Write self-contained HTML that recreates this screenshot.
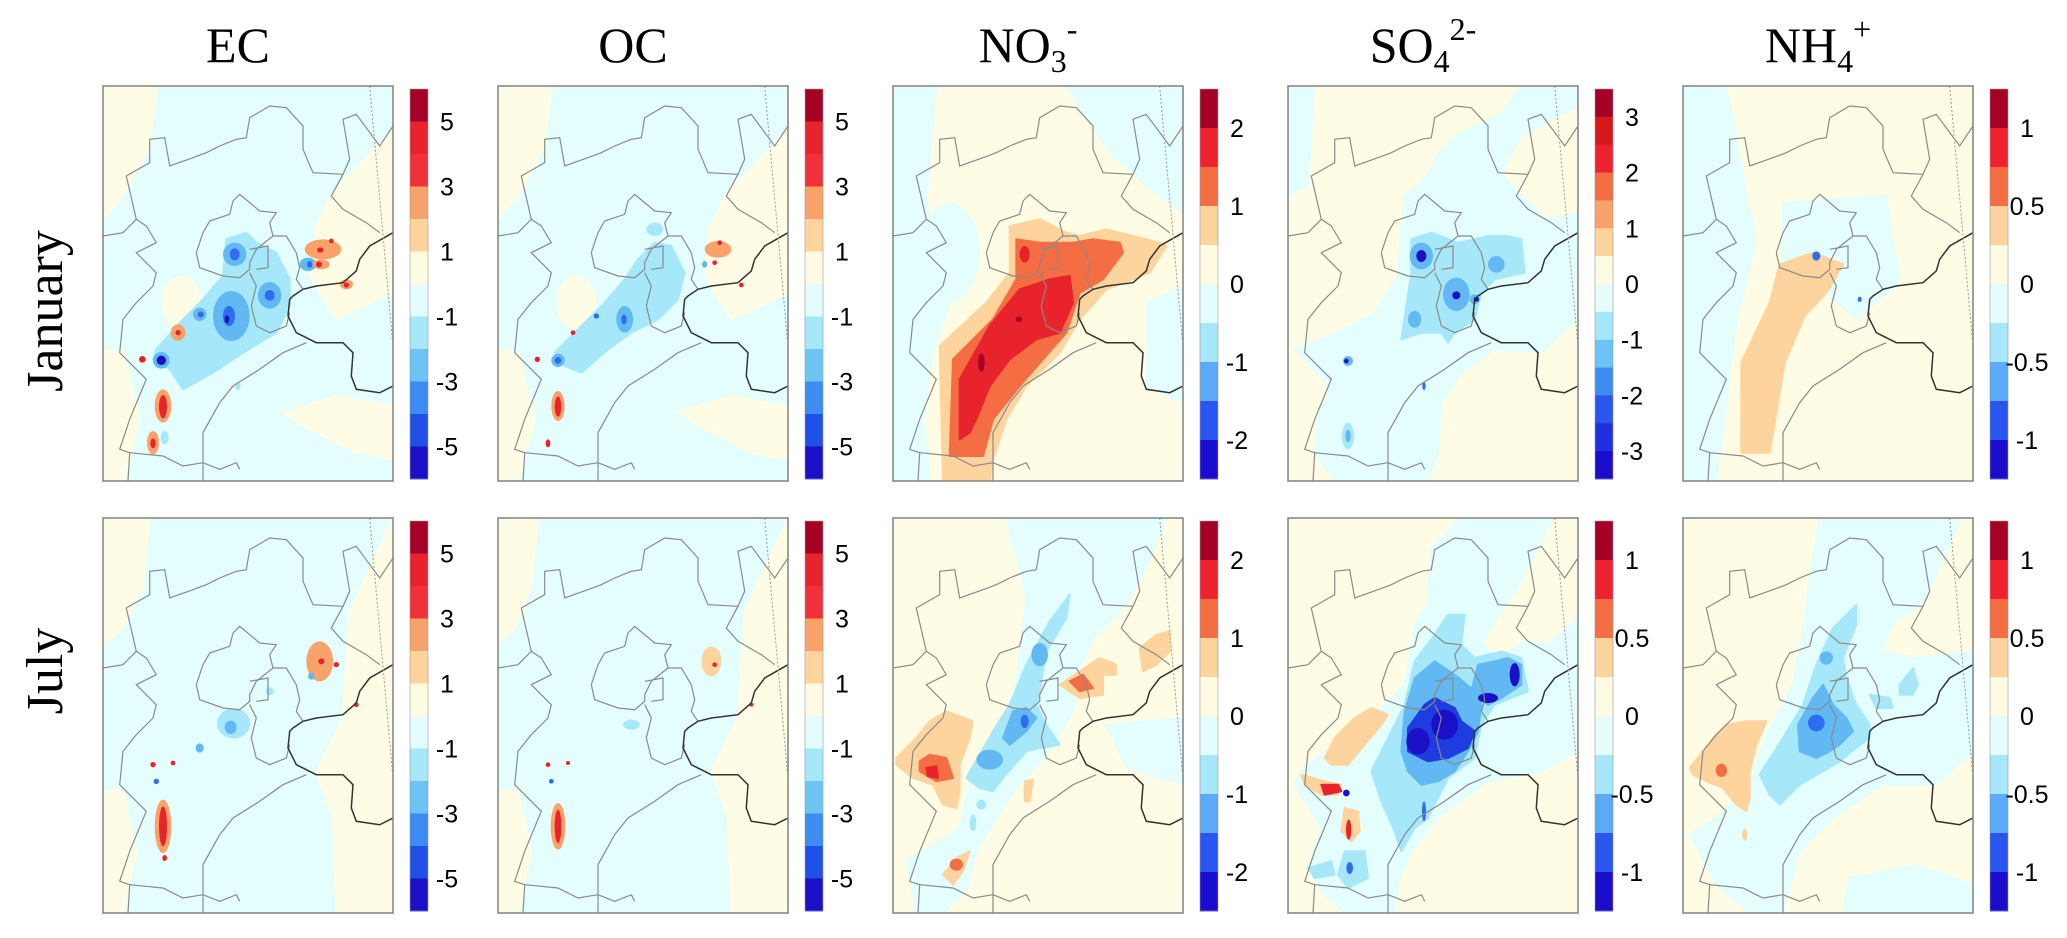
<!DOCTYPE html>
<html><head><meta charset="utf-8"><style>
html,body{margin:0;padding:0;background:#fff}
svg{display:block}
</style></head><body>
<svg id="fig" width="2067" height="938" xmlns="http://www.w3.org/2000/svg" font-family="Liberation Sans, sans-serif">
<rect width="2067" height="938" fill="#fff"/>
</svg>
<script>
// ---- data ----
const species = ["EC","OC","NO3","SO4","NH4"];
const months = ["January","July"];
const cbLabelsEC = ["5","3","1","-1","-3","-5"];
const cbLabelsNO3 = ["2","1","0","-1","-2"];
const cbLabelsSO4jan = ["3","2","1","0","-1","-2","-3"];
const cbLabelsHalf = ["1","0.5","0","-0.5","-1"];
const pal12 = ["#a50026","#e8232b","#f0303a","#f9a36b","#fdd49e","#fffbe3","#e5fcfc","#a6e8fa","#6cc4f4","#3c8cf2","#2050e8","#1a10c8"];
const pal10 = ["#a50026","#ef2330","#f46d43","#fdd49e","#fffbe3","#e5fcfc","#a6e8fa","#5aaaf5","#2a55ee","#1a0ccc"];
const pal14 = ["#a50026","#d7191c","#ef2330","#f46d43","#f9a36b","#fdd49e","#fffbe3","#e5fcfc","#a6e8fa","#6cc4f4","#3c8cf2","#2a55ee","#2030e0","#1a0ccc"];
const C = {dr:"#a50026",r:"#e8232b",co:"#f46d43",sa:"#f9a36b",lo:"#fdd49e",cr:"#fffce5",lc:"#e4fdfd",lb:"#a6e8fa",mb:"#62b8f2",b:"#2e6cf0",db:"#1f3ce0",nv:"#1a10c8"};

// map fields in map units (870 x 1185 per panel)
const CR_EC = [
 ["p","cr",[0,0,160,0,140,180,60,330,0,400]],
 ["p","cr",[680,330,870,130,870,620,700,700,650,620,620,560,640,420]],
 ["p","cr",[540,980,700,930,870,960,870,1120,760,1100,600,1020]],
 ["p","cr",[0,790,60,800,110,1000,60,1185,0,1185]],
 ["e","cr",[235,650,60,80]]];
const fields = {
 EC_0:{base:"lc",s:CR_EC.concat([
  ["p","lb",[160,790,240,700,300,640,360,570,370,460,430,440,460,470,520,500,560,580,560,660,520,740,420,800,330,860,240,910,200,850,150,820]],
  ["e","mb",[385,690,55,75]],["e","mb",[395,505,35,35]],["e","mb",[500,628,35,40]],["e","mb",[175,823,25,25]],["e","mb",[290,685,20,20]],["e","mb",[615,535,25,20]],
  ["e","b",[395,505,15,18]],["e","b",[500,628,15,16]],["e","b",[378,690,18,30]],["e","b",[293,685,9,9]],["e","b",[620,535,8,10]],
  ["e","nv",[175,823,14,14]],["e","nv",[372,700,7,12]],
  ["e","sa",[225,740,22,25]],["e","sa",[180,960,25,50]],["e","sa",[150,1070,18,35]],["e","sa",[660,490,55,30]],["e","sa",[655,535,25,15]],["e","sa",[730,595,20,15]],
  ["e","r",[225,740,8,8]],["e","r",[118,820,10,10]],["e","r",[180,962,12,35]],["e","r",[150,1072,8,15]],["e","r",[652,492,10,8]],["e","r",[685,465,7,7]],["e","r",[648,535,9,9]],["e","r",[730,597,8,8]],
  ["e","lb",[185,1055,12,20]],["e","lb",[405,900,8,12]]])},
 OC_0:{base:"lc",s:CR_EC.concat([
  ["p","lb",[170,800,250,720,320,650,380,580,420,520,470,470,520,480,560,560,540,640,480,700,400,740,330,790,250,860,200,840]],
  ["e","lb",[470,430,25,20]],["e","mb",[380,700,25,40]],["e","mb",[180,823,20,20]],
  ["e","b",[180,823,10,10]],["e","b",[378,700,8,15]],["e","b",[295,690,8,8]],
  ["e","sa",[180,960,20,45]],["e","r",[180,962,10,30]],["e","r",[150,1072,7,12]],["e","r",[118,820,8,8]],["e","r",[225,740,7,7]],
  ["e","sa",[660,490,40,25]],["e","r",[665,470,7,7]],["e","r",[650,530,7,7]],["e","r",[730,597,7,7]],["e","mb",[620,535,8,10]]])},
 NO3_0:{base:"cr",s:[
  ["p","lc",[0,0,130,0,100,350,170,650,120,800,90,1000,110,1185,0,1185]],
  ["e","lc",[170,500,90,150]],["p","lc",[520,0,870,0,870,380,760,300,650,200]],["p","lc",[760,650,870,600,870,950,760,900]],
  ["p","lo",[150,1185,140,780,280,650,350,560,350,420,440,400,520,440,560,450,640,430,720,450,800,470,820,480,770,560,640,610,560,700,500,800,400,900,340,1000,300,1120,290,1185]],
  ["p","co",[170,1110,180,820,300,700,370,580,370,460,440,470,540,470,600,460,680,470,690,500,630,580,560,620,520,740,450,820,380,900,300,1000,270,1110]],
  ["p","r",[200,1060,200,880,290,720,380,610,470,580,530,570,540,650,500,740,430,760,350,820,290,900,250,1000,230,1040]],
  ["e","r",[395,505,15,25]],["e","dr",[378,700,10,8]],["e","dr",[265,830,10,28]]]},
 SO4_0:{base:"cr",s:[
  ["p","lc",[20,790,150,740,260,680,330,570,340,420,350,330,420,270,450,200,500,150,560,120,640,80,700,0,870,0,870,60,700,150,640,260,700,330,780,400,870,380,870,700,760,800,620,790,520,860,460,950,450,1100,420,1185,140,1185,80,1100,90,1000,120,900,60,830]],
  ["p","lc",[0,0,80,0,60,300,0,330]],
  ["p","lb",[340,760,370,560,370,460,430,440,510,470,560,460,600,450,660,450,700,460,710,560,620,580,580,620,560,700,500,740,480,770,460,740,400,740]],
  ["e","mb",[400,510,35,40]],["e","mb",[505,625,40,50]],["e","mb",[625,535,25,25]],["e","mb",[380,700,20,25]],["e","mb",[560,640,15,15]],["e","mb",[180,825,15,15]],["e","lb",[180,1050,18,40]],["e","mb",[180,1050,8,18]],
  ["e","nv",[400,510,15,18]],["e","nv",[505,628,12,12]],["e","nv",[565,640,8,7]],["e","nv",[175,825,7,7]],["e","b",[408,900,5,12]]]},
 NH4_0:{base:"cr",s:[
  ["p","lc",[0,0,130,0,220,470,160,710,100,1185,0,1185]],
  ["p","lc",[300,350,610,330,650,590,520,700,430,620,300,530]],
  ["p","lo",[175,1100,175,830,260,650,290,535,390,500,480,535,435,615,365,690,305,830,260,1100]],
  ["e","b",[400,510,12,14]],["e","b",[530,640,6,8]]]},
 EC_1:{base:"lc",s:[
  ["p","cr",[0,0,140,0,120,200,60,330,0,380]],
  ["p","cr",[740,280,870,0,870,1185,700,1185,690,900,640,760,720,600]],
  ["p","cr",[0,820,60,820,100,1000,60,1185,0,1185]],
  ["e","lb",[392,616,50,45]],["e","mb",[383,628,18,20]],["e","lb",[500,520,12,12]],["e","mb",[290,690,12,14]],
  ["e","sa",[650,430,40,60]],["e","r",[655,430,9,9]],["e","r",[700,440,8,8]],["e","mb",[625,475,10,10]],["e","r",[760,560,7,7]],
  ["e","sa",[180,925,25,80]],["e","r",[180,925,12,60]],["e","r",[150,740,8,8]],["e","r",[210,735,7,7]],["e","b",[160,790,8,8]],["e","r",[185,1020,7,9]]]},
 OC_1:{base:"lc",s:[
  ["p","cr",[0,0,120,0,100,200,50,330,0,380]],
  ["p","cr",[740,280,870,0,870,1185,700,1185,690,900,640,760,720,600]],
  ["p","cr",[0,820,60,820,100,1000,60,1185,0,1185]],
  ["e","lb",[400,620,25,15]],
  ["e","lo",[640,430,30,45]],["e","r",[650,440,7,7]],["e","r",[760,560,6,6]],
  ["e","sa",[180,925,22,70]],["e","r",[180,925,10,50]],["e","r",[150,740,7,7]],["e","r",[210,735,6,6]],["e","b",[160,790,7,7]]]},
 NO3_1:{base:"cr",s:[
  ["p","lc",[340,0,820,0,760,150,700,260,600,360,560,450,540,580,470,700,380,800,310,900,250,1000,220,1120,150,1185,70,1185,40,1030,200,930,230,800,330,650,360,560,380,400,400,240]],
  ["p","lc",[640,620,870,600,870,800,700,750]],
  ["p","lb",[220,780,300,640,350,560,400,440,470,310,530,230,520,300,460,400,440,520,430,560,460,620,500,680,440,690,400,700,330,780,300,820,260,810]],
  ["e","lb",[240,915,10,25]],["e","lb",[265,860,15,15]],
  ["p","mb",[330,660,360,580,400,570,430,600,400,640,350,680]],["e","mb",[290,725,40,30]],["e","mb",[440,410,25,35]],["e","b",[395,610,12,20]],
  ["p","lo",[10,720,70,660,110,610,160,580,240,610,230,660,200,740,200,820,190,870,150,860,120,800,60,780,10,740]],
  ["p","co",[80,730,110,710,160,720,180,780,130,790,80,760]],["p","r",[100,750,130,745,135,780,105,775]],
  ["p","lo",[500,500,560,460,620,420,670,440,670,470,630,470,630,530,560,540]],["p","co",[530,490,570,470,600,510,560,520]],
  ["p","lo",[740,390,790,350,830,340,830,400,790,440,750,460]],
  ["p","lo",[150,1070,190,1020,230,1000,210,1060,180,1100]],["e","co",[190,1040,20,18]],
  ["p","lo",[395,790,420,785,410,850,395,850]]]},
 SO4_1:{base:"cr",s:[
  ["p","lc",[430,90,520,0,840,0,780,200,700,300,690,360,780,380,870,300,870,700,760,760,600,790,450,900,370,1000,330,1100,320,1185,170,1185,100,1120,60,1050,100,930,20,800,40,760,110,700,230,620,350,500,380,320,420,250]],
  ["p","cr",[800,0,870,0,870,250,760,330,620,420,590,370,700,200]],
  ["p","lb",[250,760,300,660,350,560,380,430,440,350,480,290,530,290,520,380,560,420,640,400,700,420,720,520,620,560,580,620,560,720,480,780,420,900,380,930,340,1000,320,940,280,850]],
  ["p","mb",[340,700,350,580,380,480,440,430,500,470,560,520,580,560,570,640,540,700,500,760,450,790,400,800,360,760]],
  ["p","mb",[550,520,570,440,620,430,660,420,700,440,700,500,640,540,600,560]],
  ["p","db",[360,700,360,630,410,560,440,540,500,570,520,610,560,640,540,690,480,720,420,730]],
  ["e","nv",[390,670,35,40]],["e","nv",[470,620,40,45]],["e","nv",[600,540,30,15]],["e","nv",[680,470,15,35]],["e","nv",[185,1050,10,18]],["e","b",[408,880,6,30]],
  ["p","lo",[110,720,140,660,200,600,250,570,300,590,280,620,230,680,180,740,130,740]],
  ["p","lo",[40,770,110,790,160,800,150,830,100,830,50,800]],["p","r",[100,800,150,800,160,820,110,830]],
  ["p","lo",[170,870,210,880,215,940,190,970,160,940]],["e","r",[182,935,8,30]],["e","nv",[175,825,10,10]],
  ["p","lb",[170,1000,230,1000,240,1080,180,1110,150,1070]],["p","lb",[60,1050,130,1030,140,1070,80,1080]],["e","b",[185,1050,10,18]]]},
 NH4_1:{base:"cr",s:[
  ["p","lc",[410,0,830,0,780,130,720,250,620,330,600,400,700,420,870,400,870,700,760,800,600,800,450,900,350,1000,300,1185,200,1185,100,1100,20,950,100,900,200,800,250,650,330,500,360,330,380,180]],
  ["p","lc",[500,1080,700,1040,870,1100,870,1185,480,1185]],
  ["p","lb",[230,770,300,660,360,560,400,440,450,330,520,260,520,320,480,420,490,480,520,560,560,620,560,660,520,690,470,730,420,760,350,800,290,860,260,830]],
  ["p","lb",[650,500,690,450,705,500,690,530,650,530]],["p","lb",[560,530,620,540,630,570,580,570]],
  ["p","mb",[350,700,345,620,390,540,420,500,450,560,490,600,510,640,470,680,440,700,400,720]],
  ["e","mb",[430,420,20,20]],["e","b",[400,615,25,25]],
  ["p","lo",[20,750,60,700,90,660,130,620,190,610,250,610,220,680,200,760,200,840,190,880,160,860,120,810,70,790,30,770]],
  ["e","co",[115,757,17,20]],["e","lo",[185,950,8,18]]]}
};
// boundary lines (map units)
const borders = [
 [0,450,60,440,100,400,70,270,140,230,140,160,185,155,200,240,270,215,310,200,350,180,400,160,430,155,440,95,500,60,550,65,600,120,600,190,630,260,720,265,740,220,720,100,760,85,830,180,870,120],
 [720,265,685,330,720,370,790,410,830,440],
 [100,400,130,420,160,470,100,500,160,560,150,600,100,650,60,700,50,800,100,850,130,880,80,1000,50,1090,80,1100,75,1185],
 [280,500,300,440,320,405,380,385,390,345,410,325,470,375,520,380,500,410,510,450,460,490,440,530,440,550,410,575,360,570,290,545,280,500],
 [440,490,495,480,495,545,460,550],
 [440,560,460,600,445,660,460,720,500,740,550,720,560,680],
 [510,450,550,450,580,500,590,545,580,580,600,610],
 [610,770,540,800,470,850,390,900,350,950,300,1040,300,1185],
 [80,1100,180,1110,240,1140,300,1130,350,1150,400,1130,410,1150]
];
const coast = [870,440,800,480,770,520,760,555,720,590,640,600,600,610,570,630,560,640,555,690,580,740,640,770,720,770,750,800,745,870,760,910,830,920,870,900];

// ---- layout ----
const NS="http://www.w3.org/2000/svg";
const svg=document.getElementById('fig');
const PX0=103, PSTEP=395, PW=290, PH=395, PY=[86,518], MW=870, MH=1185;
function mk(tag,attrs,parent){const e=document.createElementNS(NS,tag);for(const k in attrs)e.setAttribute(k,attrs[k]);(parent||svg).appendChild(e);return e;}
const titleText={EC:"EC",OC:"OC",NO3:["NO","3","-"],SO4:["SO","4","2-"],NH4:["NH","4","+"]};
const cbSpec=[
 [[pal12,cbLabelsEC],[pal12,cbLabelsEC]],
 [[pal12,cbLabelsEC],[pal12,cbLabelsEC]],
 [[pal10,cbLabelsNO3],[pal10,cbLabelsNO3]],
 [[pal14,cbLabelsSO4jan],[pal10,cbLabelsHalf]],
 [[pal10,cbLabelsHalf],[pal10,cbLabelsHalf]]
];
const defs=mk('defs',{});
species.forEach((sp,i)=>{
 const px=PX0+PSTEP*i;
 const t=mk('text',{x:px+135,y:62,'text-anchor':'middle','font-family':'Liberation Serif, serif','font-size':50,fill:'#000'});
 
 
 const tt=titleText[sp];
 if(typeof tt==='string'){t.textContent=tt;}else{
  const a=mk('tspan',{},t);a.textContent=tt[0];
  const b=mk('tspan',{'font-size':32,dy:10},t);b.textContent=tt[1];
  const c=mk('tspan',{'font-size':32,dy:-32},t);c.textContent=tt[2];
 }
 months.forEach((m,j)=>{
  const py=PY[j];
  const f=fields[sp+'_'+j];
  const g=mk('g',{'clip-path':'url(#clip'+i+'_'+j+')'});
  
  
  const cp=mk('clipPath',{id:'clip'+i+'_'+j},defs);
  mk('rect',{x:px,y:py,width:PW,height:PH},cp);
  mk('rect',{x:px,y:py,width:PW,height:PH,fill:C[f.base]},g);
  const X=v=>px+v/MW*PW, Y=v=>py+v/MH*PH;
  const pts=a=>{let s=[];for(let k=0;k<a.length;k+=2)s.push(X(a[k]).toFixed(1)+','+Y(a[k+1]).toFixed(1));return s.join(' ');};
  f.s.forEach(s=>{
   if(s[0]==='p'){
    mk('polygon',{points:pts(s[2]),fill:C[s[1]],stroke:C[s[1]],'stroke-width':2,'stroke-linejoin':'round'},g);
   }else{
    const e=s[2];
    mk('ellipse',{cx:X(e[0]),cy:Y(e[1]),rx:e[2]/MW*PW,ry:e[3]/MH*PH,fill:C[s[1]]},g);
   }
  });
  borders.forEach(b=>mk('polyline',{points:pts(b),fill:'none',stroke:'#8a8a8a','stroke-width':1.2},g));
  mk('polyline',{points:pts(coast),fill:'none',stroke:'#333','stroke-width':1.5},g);
  mk('line',{x1:X(800),y1:Y(0),x2:X(868),y2:Y(760),stroke:'#999','stroke-width':1,'stroke-dasharray':'2,2'},g);
  const fr=mk('rect',{x:px,y:py,width:PW,height:PH,fill:'none',stroke:'#888','stroke-width':1.6});
  
  
  const [pal,labels]=cbSpec[i][j];
  const cx=px+307, cy=py+3, ch=390, n=pal.length, sh=ch/n;
  const cb=mk('g',{});
  
  
  pal.forEach((col,k)=>{
   const r=mk('rect',{x:cx,y:cy+k*sh,width:18,height:sh+0.5,fill:col},cb);
   
   
  });
  mk('rect',{x:cx,y:cy,width:18,height:ch,fill:'none',stroke:'#999','stroke-width':0.6},cb);
  labels.forEach((lb,k)=>{
   const tl=mk('text',{x:cx+37,y:cy+(2*k+1)*sh+9,'text-anchor':'middle','font-size':25,fill:'#000'},cb);
   
   
   tl.textContent=lb;
  });
 });
});
months.forEach((m,j)=>{
 const cyc=j===0?311:671;
 const t=mk('text',{x:0,y:0,transform:'translate(62,'+cyc+') rotate(-90)','text-anchor':'middle','font-family':'Liberation Serif, serif','font-size':52,fill:'#000'});
 
 
 t.textContent=m;
});
</script>
</body></html>
